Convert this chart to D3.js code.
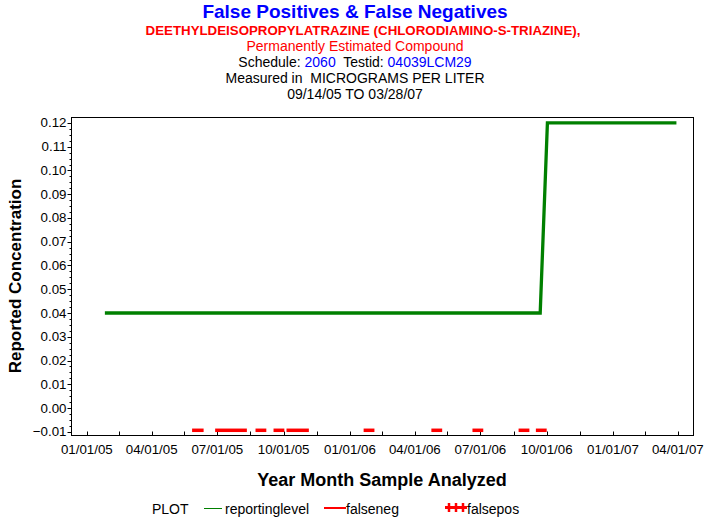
<!DOCTYPE html>
<html>
<head>
<meta charset="utf-8">
<script src="https://cdn.jsdelivr.net/npm/d3@7"></script>
<style>
  body { margin: 0; background: #fff; }
  text { font-family: Arial, "Liberation Sans", sans-serif; }
</style>
</head>
<body>
<script>
// reporting level line (date, value)
const levelDates = ["2005-01-26", "2006-09-22", "2006-10-02", "2007-03-30"];
const levelValues = [0.04, 0.04, 0.12, 0.12];

// false negative runs, drawn at -0.01
const negStarts = ["2005-05-27", "2005-06-28", "2005-08-23", "2005-09-17", "2005-10-05",
                   "2006-01-20", "2006-04-24", "2006-06-20", "2006-08-23", "2006-09-16"];
const negEnds   = ["2005-06-12", "2005-08-11", "2005-09-07", "2005-10-02", "2005-11-05",
                   "2006-02-04", "2006-05-09", "2006-07-05", "2006-09-07", "2006-10-01"];
const negValue = -0.01;

// axis ticks
const xTickLabels = ["01/01/05", "04/01/05", "07/01/05", "10/01/05", "01/01/06",
                     "04/01/06", "07/01/06", "10/01/06", "01/01/07", "04/01/07"];
const xMidTicks = ["2005-02-15", "2005-05-16", "2005-08-16", "2005-11-16", "2006-02-15",
                   "2006-05-16", "2006-08-16", "2006-11-16", "2007-02-15"];
const yTicks = [-0.01, 0.00, 0.01, 0.02, 0.03, 0.04, 0.05, 0.06, 0.07, 0.08, 0.09, 0.10, 0.11, 0.12];

const parse = d3.timeParse("%Y-%m-%d");
const parseLabel = d3.timeParse("%m/%d/%y");

const W = 713, H = 523;
const m = { left: 71, right: 693, top: 117, bottom: 435 };

const svg = d3.select("body").append("svg")
    .attr("width", W)
    .attr("height", H);

const x = d3.scaleTime()
    .domain([parse("2004-12-10"), parse("2007-04-22")])
    .range([m.left, m.right]);
const y = d3.scaleLinear()
    .domain([-0.01135, 0.1225])
    .range([m.bottom, m.top]);

// titles
const titles = svg.append("g").attr("text-anchor", "middle");
titles.append("text").attr("x", 355).attr("y", 18)
    .attr("fill", "#0000ff").attr("font-size", 19).attr("font-weight", "bold")
    .text("False Positives & False Negatives");
titles.append("text").attr("x", 363).attr("y", 35)
    .attr("fill", "#ff0000").attr("font-size", 13.3).attr("font-weight", "bold")
    .text("DEETHYLDEISOPROPYLATRAZINE (CHLORODIAMINO-S-TRIAZINE),");
titles.append("text").attr("x", 355).attr("y", 51)
    .attr("fill", "#ff0000").attr("font-size", 14)
    .text("Permanently Estimated Compound");
const sched = titles.append("text").attr("x", 355).attr("y", 67)
    .attr("font-size", 14).attr("fill", "#000");
sched.append("tspan").text("Schedule: ");
sched.append("tspan").attr("fill", "#0000ff").text("2060");
sched.append("tspan").text("\u00a0 Testid: ");
sched.append("tspan").attr("fill", "#0000ff").text("04039LCM29");
titles.append("text").attr("x", 355).attr("y", 83)
    .attr("font-size", 14)
    .text("Measured in \u00a0MICROGRAMS PER LITER");
titles.append("text").attr("x", 355).attr("y", 99)
    .attr("font-size", 14)
    .text("09/14/05 TO 03/28/07");

// frame
svg.append("rect")
    .attr("x", m.left + 0.5).attr("y", m.top + 0.5)
    .attr("width", m.right - m.left).attr("height", m.bottom - m.top)
    .attr("fill", "none").attr("stroke", "#000").attr("stroke-width", 1);

// y axis
const yAxis = svg.append("g").attr("transform", `translate(${m.left + 0.5},0)`);
const yMinor = [];
for (let i = 0; i < yTicks.length - 1; i++) {
    for (let k = 1; k < 4; k++) yMinor.push(yTicks[i] + k * 0.0025);
}
yAxis.selectAll("line.minor").data(yMinor).enter().append("line")
    .attr("x1", -2).attr("x2", 0)
    .attr("y1", d => Math.round(y(d)) + 0.5).attr("y2", d => Math.round(y(d)) + 0.5)
    .attr("stroke", "#000");
yAxis.selectAll("line.major").data(yTicks).enter().append("line")
    .attr("x1", -4).attr("x2", 0)
    .attr("y1", d => Math.round(y(d)) + 0.5).attr("y2", d => Math.round(y(d)) + 0.5)
    .attr("stroke", "#000");
yAxis.selectAll("text").data(yTicks).enter().append("text")
    .attr("x", -5).attr("y", d => y(d) + 4.5)
    .attr("text-anchor", "end").attr("font-size", 13.3)
    .text(d => d3.format(".2f")(d));

// x axis
const xAxis = svg.append("g").attr("transform", `translate(0,${m.bottom + 0.5})`);
const xMajor = xTickLabels.map(parseLabel);
xAxis.selectAll("line.tick").data(xMajor.concat(xMidTicks.map(parse))).enter().append("line")
    .attr("x1", d => Math.round(x(d)) + 0.5).attr("x2", d => Math.round(x(d)) + 0.5)
    .attr("y1", -4).attr("y2", 0)
    .attr("stroke", "#000");
xAxis.selectAll("text").data(xMajor).enter().append("text")
    .attr("x", d => x(d)).attr("y", 18)
    .attr("text-anchor", "middle").attr("font-size", 13.3)
    .text((d, i) => xTickLabels[i]);

// axis labels
svg.append("text")
    .attr("x", 382).attr("y", 486)
    .attr("text-anchor", "middle").attr("font-size", 18).attr("font-weight", "bold")
    .text("Year Month Sample Analyzed");
svg.append("text")
    .attr("transform", `translate(21,${(m.top + m.bottom) / 2}) rotate(-90)`)
    .attr("text-anchor", "middle").attr("font-size", 17).attr("font-weight", "bold")
    .text("Reported Concentration");

// reporting level
const levelData = levelDates.map((d, i) => ({ date: parse(d), value: levelValues[i] }));
svg.append("path")
    .datum(levelData)
    .attr("d", d3.line().x(d => x(d.date)).y(d => y(d.value)))
    .attr("fill", "none")
    .attr("stroke", "#008000")
    .attr("stroke-width", 3.3);

// false negatives
const negData = negStarts.map((d, i) => ({ start: parse(d), end: parse(negEnds[i]) }));
svg.selectAll("line.neg").data(negData).enter().append("line")
    .attr("x1", d => x(d.start)).attr("x2", d => x(d.end))
    .attr("y1", y(negValue) - 1.5).attr("y2", y(negValue) - 1.5)
    .attr("stroke", "#ff0000").attr("stroke-width", 3.5);

// legend
const legend = svg.append("g").attr("font-size", 14);
legend.append("text").attr("x", 152).attr("y", 514).text("PLOT");
legend.append("line").attr("x1", 204).attr("x2", 222).attr("y1", 508.5).attr("y2", 508.5)
    .attr("stroke", "#008000").attr("stroke-width", 1);
legend.append("text").attr("x", 225).attr("y", 514).text("reportinglevel");
legend.append("line").attr("x1", 324).attr("x2", 346).attr("y1", 508).attr("y2", 508)
    .attr("stroke", "#ff0000").attr("stroke-width", 2);
legend.append("text").attr("x", 346).attr("y", 514).text("falseneg");
legend.append("line").attr("x1", 445).attr("x2", 467).attr("y1", 507.5).attr("y2", 507.5)
    .attr("stroke", "#ff0000").attr("stroke-width", 3);
legend.selectAll("line.plus").data([449, 456, 463]).enter().append("line")
    .attr("x1", d => d).attr("x2", d => d).attr("y1", 503).attr("y2", 512)
    .attr("stroke", "#ff0000").attr("stroke-width", 2.5);
legend.append("text").attr("x", 467).attr("y", 514).text("falsepos");
</script>
</body>
</html>
